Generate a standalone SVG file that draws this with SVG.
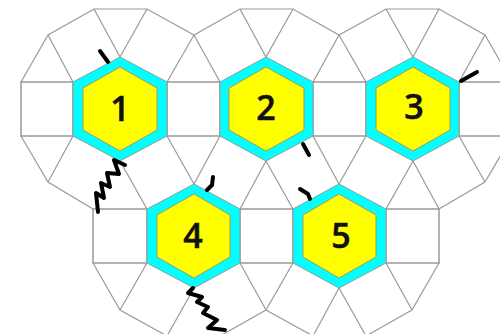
<svg xmlns="http://www.w3.org/2000/svg" width="500" height="334" viewBox="0 0 500 334">
<style>
.g{fill:none;stroke:#999;stroke-width:1.2}
.s{fill:#fff;stroke:#999;stroke-width:1.5}
.o{fill:#0ff;stroke:#999;stroke-width:1}
.i{fill:#ff0;stroke:#a89a50;stroke-width:1}
.t{font-family:"Open Sans","Noto Sans",sans-serif;font-size:34px;font-weight:600;fill:#111;stroke:#111;stroke-width:.5;text-anchor:middle}
.k{fill:none;stroke:#000;stroke-width:4;stroke-linecap:round;stroke-linejoin:round}
</style>
<rect width="500" height="334" fill="#fff"/>
<g id="mesh">
<path class="g" d="M21 82L48 35L94 9H147L194 35L240 9H293L339 35L386 9H439L485 35L512 82M21 136L48 182L93 209M48 35L73 82M94 9L120 57M147 9L120 57M194 35L167 82M194 35L220 82M240 9L266 57M293 9L266 57M339 35L313 82M339 35L366 82M386 9L413 57M439 9L413 57M485 35L459 82M48 182L73 136M167 136L194 184M220 136L194 184M120 161L147 209M266 161L240 209M266 161L293 209M313 136L339 184M366 136L339 184M413 161L386 209M413 161L439 209M459 136L485 182L439 209M485 182L512 136M93 263L120 310L167 336M147 263L120 310M194 288L167 336M240 263L266 310L220 336M293 263L266 310L313 336M339 288L313 336M339 288L366 336L412 310M386 263L412 310M439 263L412 310"/>
<path class="s" d="M21 82H73V136H21ZM167 82H220V136H167ZM313 82H366V136H313ZM459 82H505V136H459ZM93 209H147V263H93ZM240 209H293V263H240ZM386 209H439V263H386Z"/>
</g>
<g id="node-1"><path class="o" d="M120 57L167 82V136L120 161L73 136V82Z"/><path class="i" d="M120 67L157 88V130L120 151L83 130V88Z"/><text class="t" x="120" y="121">1</text></g>
<g id="node-2"><path class="o" d="M266 57L313 82V136L266 161L220 136V82Z"/><path class="i" d="M266 67L304 88V130L266 151L229 130V88Z"/><text class="t" x="266" y="120">2</text></g>
<g id="node-3"><path class="o" d="M413 57L459 82V136L413 161L366 136V82Z"/><path class="i" d="M413 67L450 88V130L413 151L376 130V88Z"/><text class="t" x="414" y="119">3</text></g>
<g id="node-4"><path class="o" d="M194 184L240 209V263L194 288L147 263V209Z"/><path class="i" d="M194 194L230 215V257L194 278L157 257V215Z"/><text class="t" x="193" y="248">4</text></g>
<g id="node-5"><path class="o" d="M339 184L386 209V263L339 288L293 263V209Z"/><path class="i" d="M339 194L376 215V257L339 278L303 257V215Z"/><text class="t" x="341" y="248">5</text></g>
<g id="connectors">
<path class="k" d="M100 51L108 62"/>
<path class="k" d="M303 144L309 155"/>
<path class="k" d="M461 81L477 72"/>
<path class="k" d="M213 177L212 185L207 190"/>
<path class="k" d="M300 189L308 194L310 199"/>
<path class="k" d="M125 165L114 160L119 174L107 173L110 187L101 183L104 198L96 193L98 212"/>
<path class="k" d="M193 288L188 293L202 297L197 302L208 307L203 313L217 320L208 328L225 330"/>
</g>
</svg>
